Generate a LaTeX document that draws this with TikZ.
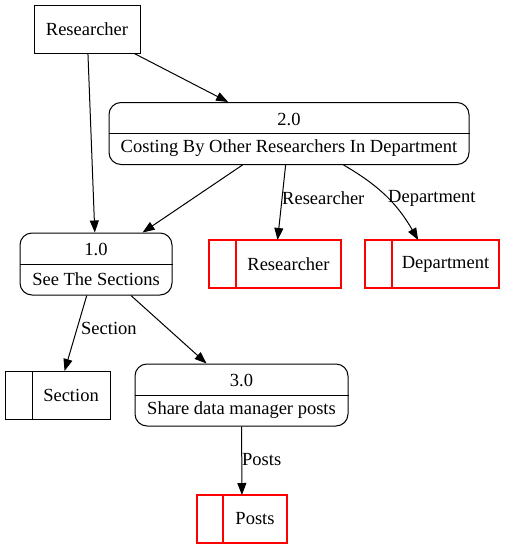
\documentclass[tikz,border=0pt]{standalone}
\usepackage{fontspec}
\setmainfont{Liberation Serif}
\usetikzlibrary{arrows.meta}
\definecolor{storered}{RGB}{255,0,0}
\tikzset{
  base/.style={line width=1pt},
  entity/.style={base, draw, rectangle, inner sep=0pt, minimum width=106pt, minimum height=48pt},
  proc/.style={base, draw, rectangle, rounded corners=12pt, inner sep=0pt, minimum height=62pt},
  store/.style={rectangle, inner sep=0pt, outer sep=0pt, minimum height=48pt},
  redline/.style={line width=1.3pt, draw=storered},
  blackline/.style={base, draw=black},
  txt/.style={inner sep=0pt, text=black, font=\fontsize{18.5}{21}\selectfont},
  flow/.style={base, -{Triangle[length=12pt,width=9pt]}},
  flowlabel/.style={txt, anchor=west}
}
\begin{document}
\begin{tikzpicture}[x=1pt,y=-1pt]
\useasboundingbox (0,0) rectangle (505,549);
% external entity
\node[entity] (ent) at (87,29) {};
\node[txt] (entT) at (87,29) {Researcher};
% processes
\node[proc, minimum width=360pt] (p2) at (289,133.5) {};
\draw[base] (p2.west) -- (p2.east);
\node[txt] (p2a) at (289,119) {2.0};
\node[txt] (p2b) at (289,148) {Costing By Other Researchers In Department};
\node[proc, minimum width=152pt] (p1) at (96,264) {};
\draw[base] (p1.west) -- (p1.east);
\node[txt] (p1a) at (96,249) {1.0};
\node[txt] (p1b) at (96,279) {See The Sections};
\node[proc, minimum width=213pt] (p3) at (241.5,395) {};
\draw[base] (p3.west) -- (p3.east);
\node[txt] (p3a) at (241.5,380) {3.0};
\node[txt] (p3b) at (241.5,410) {Share data manager posts};
% stores
\node[store, minimum width=132pt] (sres) at (275,264) {};
\draw[redline] (sres.north west) rectangle (sres.south east);
\draw[redline] ([xshift=27pt]sres.north west) -- ([xshift=27pt]sres.south west);
\node[txt] (sresT) at (288.5,264) {Researcher};
\node[store, minimum width=134pt] (sdep) at (432,264) {};
\draw[redline] (sdep.north west) rectangle (sdep.south east);
\draw[redline] ([xshift=27pt]sdep.north west) -- ([xshift=27pt]sdep.south west);
\node[txt] (sdepT) at (445.5,264) {Department};
\node[store, minimum width=105pt] (ssec) at (57.5,395) {};
\draw[blackline] (ssec.north west) rectangle (ssec.south east);
\draw[blackline] ([xshift=27pt]ssec.north west) -- ([xshift=27pt]ssec.south west);
\node[txt] (ssecT) at (71,395) {Section};
\node[store, minimum width=90pt] (spos) at (242,519) {};
\draw[redline] (spos.north west) rectangle (spos.south east);
\draw[redline] ([xshift=26pt]spos.north west) -- ([xshift=26pt]spos.south west);
\node[txt] (sposT) at (255,519) {Posts};
% flows
\draw[flow] (ent) -- (p1);
\draw[flow] (ent) -- (p2);
\draw[flow] (p2) -- (p1);
\draw[flow] (p2) -- (sres);
\draw[flow] (p2) to[out=-30,in=120] (sdep);
\draw[flow] (p1) -- (ssec);
\draw[flow] (p1) -- (p3);
\draw[flow] (p3) -- (spos);
% labels
\node[flowlabel] (l1) at (282,198) {Researcher};
\node[flowlabel] (l2) at (388,198) {Department};
\node[flowlabel] (l3) at (81,328) {Section};
\node[flowlabel] (l4) at (242,460) {Posts};
\end{tikzpicture}
\end{document}
